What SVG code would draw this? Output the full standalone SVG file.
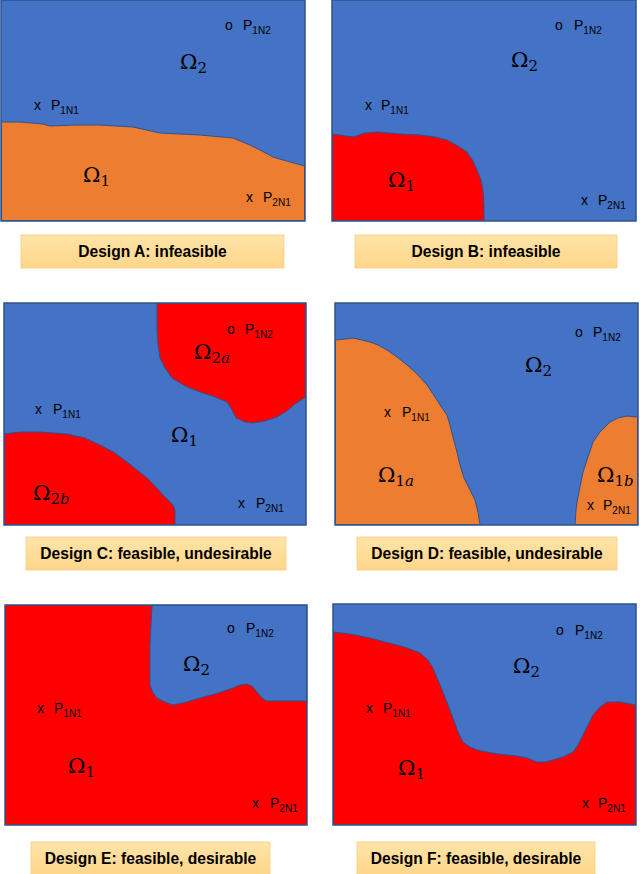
<svg xmlns="http://www.w3.org/2000/svg" width="640" height="874" viewBox="0 0 640 874">
<defs>
<linearGradient id="lg" x1="0" y1="0" x2="0" y2="1">
<stop offset="0" stop-color="#FFE4A8"/>
<stop offset="1" stop-color="#FFD68A"/>
</linearGradient>
<style>
.frame{stroke:#2F528F;stroke-width:1.5}
.blue{fill:#4472C4}
.orange{fill:#ED7D31;stroke:#2F528F;stroke-width:1;stroke-linejoin:round}
.red{fill:#FF0000;stroke:#2F528F;stroke-width:1;stroke-linejoin:round}
.redbg{fill:#FF0000}
.blueov{fill:#4472C4;stroke:#2F528F;stroke-width:1;stroke-linejoin:round}
.cap{fill:url(#lg);stroke:#F6CC80;stroke-width:0.8}
.capt{font-family:"Liberation Sans",Arial,sans-serif;font-weight:bold;font-size:15.6px;fill:#000;text-anchor:middle}
.pt{font-family:"Liberation Sans",Arial,sans-serif;font-size:14px;fill:#000}
.sub{font-size:10px}
.om{font-family:"DejaVu Serif","Liberation Serif",serif;font-size:21px;fill:#000}
.osub{font-size:15px}
.it{font-style:italic}
</style>
</defs>

<g id="designA">
<rect class="blue frame" x="1" y="0" width="304" height="221"/>
<path class="orange" d="M1.5,122 L20,122 L43,124 L50,126 L75,125 L100,125 L133,127 L160,133 L200,135 L233,138 L250,145 L262,151 L273,157 L290,162 L304.5,166 L304.5,220.5 L1.5,220.5 Z"/>
<text class="pt"><tspan x="225" y="30">o</tspan><tspan x="243" y="30">P</tspan><tspan class="sub" dy="4">1N2</tspan></text>
<text class="om" x="180" y="69">Ω<tspan class="osub" dy="4">2</tspan></text>
<text class="pt"><tspan x="34" y="110">x</tspan><tspan x="51" y="110">P</tspan><tspan class="sub" dy="4">1N1</tspan></text>
<text class="om" x="83" y="182">Ω<tspan class="osub" dy="4">1</tspan></text>
<text class="pt"><tspan x="246" y="202">x</tspan><tspan x="263" y="202">P</tspan><tspan class="sub" dy="4">2N1</tspan></text>
<rect class="cap" x="21" y="235" width="263" height="33"/>
<text class="capt" x="152.5" y="257">Design A: infeasible</text>
</g>

<g id="designB">
<rect class="blue frame" x="332" y="0" width="304" height="221"/>
<path class="red" d="M332.5,134 L353,137 L365,133 L377,132 L400,134 L420,135 L435,137 L447,140 L458,146 L467,152 L473,161 L477,170 L481,180 L483,190 L484,205 L484,220.5 L332.5,220.5 Z"/>
<text class="pt"><tspan x="555" y="30">o</tspan><tspan x="574" y="30">P</tspan><tspan class="sub" dy="4">1N2</tspan></text>
<text class="om" x="511" y="67">Ω<tspan class="osub" dy="4">2</tspan></text>
<text class="pt"><tspan x="365" y="110">x</tspan><tspan x="381" y="110">P</tspan><tspan class="sub" dy="4">1N1</tspan></text>
<text class="om" x="388" y="187">Ω<tspan class="osub" dy="4">1</tspan></text>
<text class="pt"><tspan x="581" y="205">x</tspan><tspan x="598" y="205">P</tspan><tspan class="sub" dy="4">2N1</tspan></text>
<rect class="cap" x="355" y="235" width="262" height="33"/>
<text class="capt" x="486" y="257">Design B: infeasible</text>
</g>

<g id="designC">
<rect class="blue frame" x="4" y="303" width="302" height="222"/>
<path class="red" d="M157,304 L157,330 L158,345 L160,358 L165,368 L172,378 L185,386 L200,392 L215,397 L227,402 L232,410 L236,418 L245,422 L253,423 L265,421 L277,417 L287,411 L295,404 L305.5,397 L305.5,303.5 L157,303.5 Z"/>
<path class="red" d="M4.5,434 L20,432 L40,432 L67,434 L85,438 L100,445 L115,453 L127,462 L137,470 L147,478 L155,486 L162,494 L168,500 L173,505 L175,510 L175,524.5 L4.5,524.5 Z"/>
<text class="pt"><tspan x="227" y="334">o</tspan><tspan x="245" y="334">P</tspan><tspan class="sub" dy="4">1N2</tspan></text>
<text class="om" x="194" y="359">Ω<tspan class="osub" dy="4">2<tspan class="it">a</tspan></tspan></text>
<text class="pt"><tspan x="35" y="414">x</tspan><tspan x="53" y="414">P</tspan><tspan class="sub" dy="4">1N1</tspan></text>
<text class="om" x="171" y="442">Ω<tspan class="osub" dy="4">1</tspan></text>
<text class="om" x="33" y="500">Ω<tspan class="osub" dy="4">2<tspan class="it">b</tspan></tspan></text>
<text class="pt"><tspan x="238" y="508">x</tspan><tspan x="256" y="508">P</tspan><tspan class="sub" dy="4">2N1</tspan></text>
<rect class="cap" x="26" y="537" width="260" height="33"/>
<text class="capt" x="156" y="559">Design C: feasible, undesirable</text>
</g>

<g id="designD">
<rect class="blue frame" x="335" y="303" width="303" height="222"/>
<path class="orange" d="M335.5,340 L345,339 L353,338 L362,340 L370,342 L378,345 L387,350 L397,357 L407,365 L417,374 L427,385 L435,397 L442,408 L447,415 L450,425 L453,437 L457,452 L460,465 L464,478 L470,490 L475,500 L478,512 L480,524.5 L335.5,524.5 Z"/>
<path class="orange" d="M575,524.5 L576,510 L577,502 L580,487 L583,472 L588,457 L593,442 L600,432 L610,422 L618,418 L627,416 L637.5,417 L637.5,524.5 Z"/>
<text class="pt"><tspan x="575" y="337">o</tspan><tspan x="593" y="337">P</tspan><tspan class="sub" dy="4">1N2</tspan></text>
<text class="om" x="525" y="372">Ω<tspan class="osub" dy="4">2</tspan></text>
<text class="pt"><tspan x="384" y="417">x</tspan><tspan x="402" y="417">P</tspan><tspan class="sub" dy="4">1N1</tspan></text>
<text class="om" x="378" y="482">Ω<tspan class="osub" dy="4">1<tspan class="it">a</tspan></tspan></text>
<text class="om" x="597" y="482">Ω<tspan class="osub" dy="4">1<tspan class="it">b</tspan></tspan></text>
<text class="pt"><tspan x="587" y="510">x</tspan><tspan x="603" y="510">P</tspan><tspan class="sub" dy="4">2N1</tspan></text>
<rect class="cap" x="357" y="537" width="260" height="33"/>
<text class="capt" x="487" y="559">Design D: feasible, undesirable</text>
</g>

<g id="designE">
<rect class="redbg frame" x="5" y="605" width="302" height="220"/>
<path class="blueov" d="M152,605.5 L151,625 L150,645 L150,665 L150,685 L153,693 L157,698 L165,702 L173,705 L187,702 L200,698 L215,694 L233,688 L240,685 L247,684 L252,686 L257,692 L262,698 L267,701 L306.5,701 L306.5,605.5 Z"/>
<text class="pt"><tspan x="227" y="633">o</tspan><tspan x="246" y="633">P</tspan><tspan class="sub" dy="4">1N2</tspan></text>
<text class="om" x="183" y="671">Ω<tspan class="osub" dy="4">2</tspan></text>
<text class="pt"><tspan x="37" y="713">x</tspan><tspan x="54" y="713">P</tspan><tspan class="sub" dy="4">1N1</tspan></text>
<text class="om" x="68" y="773">Ω<tspan class="osub" dy="4">1</tspan></text>
<text class="pt"><tspan x="252" y="808">x</tspan><tspan x="270" y="808">P</tspan><tspan class="sub" dy="4">2N1</tspan></text>
<rect class="cap" x="31" y="842" width="239" height="34"/>
<text class="capt" x="150.5" y="864">Design E: feasible, desirable</text>
</g>

<g id="designF">
<rect class="blue frame" x="333" y="604" width="303" height="221"/>
<path class="red" d="M333.5,632 L350,634 L370,638 L385,642 L397,645 L410,649 L420,653 L428,660 L433,668 L438,680 L443,692 L448,705 L453,718 L458,732 L463,742 L470,747 L477,750 L487,752 L497,754 L507,755 L517,756 L527,758 L537,762 L545,762 L553,760 L563,757 L573,752 L578,745 L583,735 L588,725 L593,715 L600,707 L607,702 L620,702 L635.5,705 L635.5,824.5 L333.5,824.5 Z"/>
<text class="pt"><tspan x="556" y="635">o</tspan><tspan x="575" y="635">P</tspan><tspan class="sub" dy="4">1N2</tspan></text>
<text class="om" x="513" y="673">Ω<tspan class="osub" dy="4">2</tspan></text>
<text class="pt"><tspan x="366" y="713">x</tspan><tspan x="383" y="713">P</tspan><tspan class="sub" dy="4">1N1</tspan></text>
<text class="om" x="398" y="775">Ω<tspan class="osub" dy="4">1</tspan></text>
<text class="pt"><tspan x="582" y="808">x</tspan><tspan x="598" y="808">P</tspan><tspan class="sub" dy="4">2N1</tspan></text>
<rect class="cap" x="357" y="842" width="238" height="34"/>
<text class="capt" x="476" y="864">Design F: feasible, desirable</text>
</g>
</svg>
